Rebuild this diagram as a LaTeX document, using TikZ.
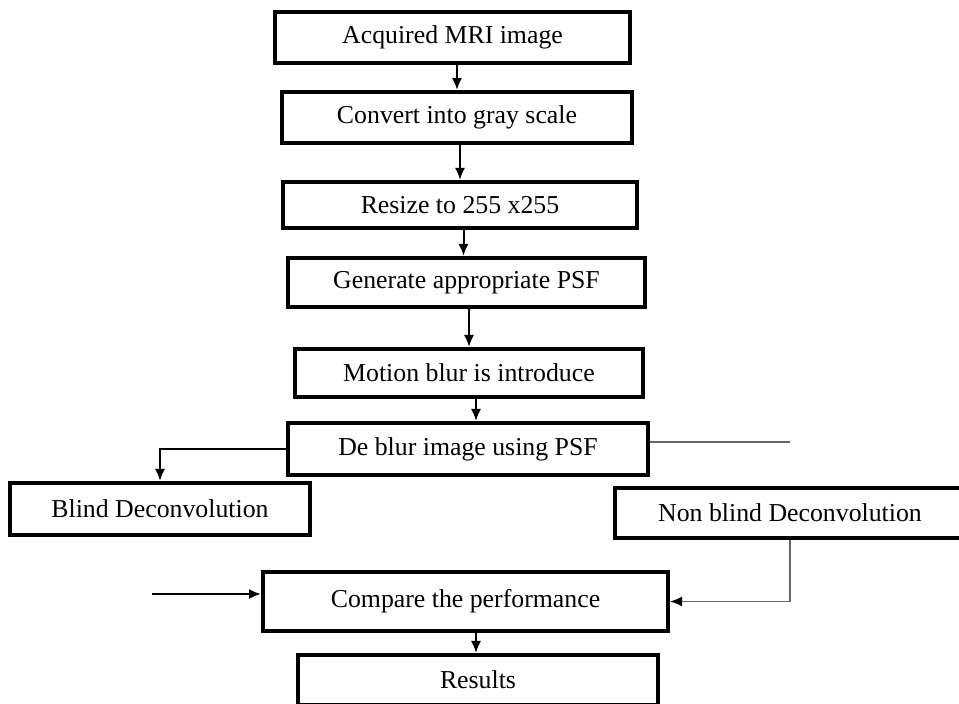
\documentclass[tikz,border=0pt]{standalone}
\usepackage{fontspec}
\setmainfont{Liberation Serif}
\usetikzlibrary{arrows.meta}
\begin{document}
\begin{tikzpicture}[>={Latex[length=6pt,width=5pt]},x=0.5pt,y=-0.5pt,
	stage/.style={draw,line width=2pt,inner sep=0pt,font=\fontsize{12.9}{15}\selectfont},
	flow/.style={->,line width=1pt},
	thin/.style={line width=0.8pt,gray!80!black}]
	\useasboundingbox (0,0) rectangle (959,704);
	\clip (0,0) rectangle (959,704);

	\node[stage,minimum width=177.5pt,minimum height=25.5pt] (acquired) at (452.5,37.5) {Acquired MRI image};
	\node[stage,minimum width=175pt,minimum height=25.5pt] (convert) at (457,117.5) {Convert into gray scale};
	\node[stage,minimum width=177pt,minimum height=23pt] (resize) at (460,205) {Resize to 255 x255};
	\node[stage,minimum width=178.5pt,minimum height=24.5pt] (psf) at (466.5,282.5) {Generate appropriate PSF};
	\node[stage,minimum width=174pt,minimum height=24pt] (motion) at (469,373) {Motion blur is introduce};
	\node[stage,minimum width=180pt,minimum height=26pt] (deblur) at (468,449) {De blur image using PSF};
	\node[stage,minimum width=150pt,minimum height=26pt] (blind) at (160,509) {Blind Deconvolution};
	\node[stage,minimum width=175pt,minimum height=25pt] (nonblind) at (790,513) {Non blind Deconvolution};
	\node[stage,minimum width=202.5pt,minimum height=29.5pt] (compare) at (465.5,601.5) {Compare the performance};
	\node[stage,minimum width=180pt,minimum height=25pt] (results) at (478,680) {Results};

	\draw[flow] (convert.north |- acquired.south) -- (convert.north);
	\draw[flow] (resize.north |- convert.south) -- (resize.north);
	\draw[flow] ([xshift=-1.5pt]psf.north |- resize.south) -- ([xshift=-1.5pt]psf.north);
	\draw[flow] (motion.north |- psf.south) -- (motion.north);
	\draw[flow] ([xshift=4pt]deblur.north |- motion.south) -- ([xshift=4pt]deblur.north);
	\draw[flow] (deblur.west) -| (blind.north);
	\draw[thin,-{Latex[length=6pt,width=5pt,black]}] (nonblind.south) |- (compare.east);
	\draw[flow] ([xshift=-1pt]results.north |- compare.south) -- ([xshift=-1pt]results.north);

	% loose ends
	\coordinate (deblurend) at (790,442);
	\coordinate (comparein) at (152,594);
	\draw[thin] (deblur.east |- deblurend) -- (deblurend);
	\draw[flow] (comparein) -- (comparein -| compare.west);
\end{tikzpicture}
\end{document}
